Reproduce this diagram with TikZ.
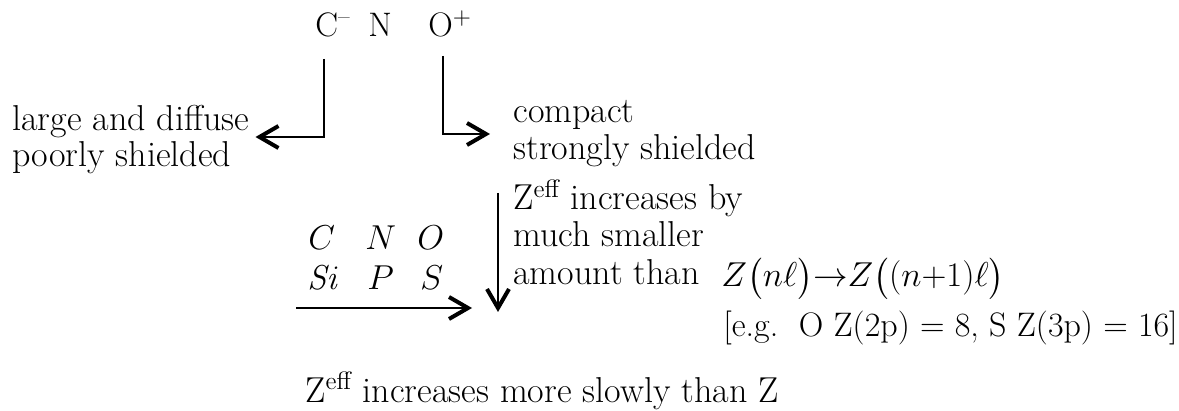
\documentclass[tikz,border=0pt]{standalone}
\usepackage{amsmath}
\usetikzlibrary{arrows.meta,calc}
\begin{document}
\begin{tikzpicture}[x=0.5pt,y=-0.5pt,
  txt/.style={inner sep=0pt,anchor=base west,font=\fontsize{17}{20}\selectfont},
  word/.style={txt,font=\fontsize{18}{21}\selectfont},
  arr/.style={line width=1pt,-{Straight Barb[length=9.5pt,width=11pt,line width=2pt]}}]
\useasboundingbox (0,0) rectangle (1179,411);
% top labels
\node[txt] (Cm) at (315,37) {C\textsuperscript{\textendash}};
\node[txt] (Nn) at (368,37) {N};
\node[txt] (Op) at (428,37) {O\textsuperscript{+}};
% side labels
\node[word] (large) at (12,131) {large and diffuse};
\node[word] (poorly) at (12,167) {poorly shielded};
\node[word] (compact) at (513,123) {compact};
\node[word] (strong) at (513,160) {strongly shielded};
% middle block
\node[word] (z1) at (513,210) {Z\textsuperscript{eff} increases by};
\node[word] (z2) at (513,247) {much smaller};
\node[word] (z3) at (513,285) {amount than};
\node[txt] (math) at (721,287) {$Z\bigl(n\ell\bigr)\mathord{\rightarrow}Z\bigl((n{+}1)\ell\bigr)$};
\node[txt] (eg) at (723,337) {[e.g.\ \ O Z(2p) = 8, S Z(3p) = 16]};
% element table
\node[txt] (C2) at (308,250) {$C$};
\node[txt] (N2) at (365,250) {$N$};
\node[txt] (O2) at (417,250) {$O$};
\node[txt] (Si) at (307,290) {$\mathit{Si}$};
\node[txt] (P2) at (367,290) {$P$};
\node[txt] (S2) at (420,290) {$S$};
% bottom
\node[word] (bottom) at (305,402) {Z\textsuperscript{eff} increases more slowly than Z};
% connectors
\coordinate (lc) at (324,137);
\coordinate (rc) at (443,134);
\draw[arr] (Cm.south -| lc) ++(0,21) -- (lc) -- ($(large.east |- lc)+(6,0)$);
\draw[arr] (Op.south -| rc) ++(0,18) -- (rc) -- ($(compact.west |- rc)+(-23,0)$);
\coordinate (dtop) at (498,193);
\coordinate (dbot) at (498,312);
\draw[arr] (dtop) -- (dbot);
\coordinate (hs) at (296,308);
\coordinate (he) at (472,308);
\draw[arr] (hs) -- (he);
\end{tikzpicture}
\end{document}
